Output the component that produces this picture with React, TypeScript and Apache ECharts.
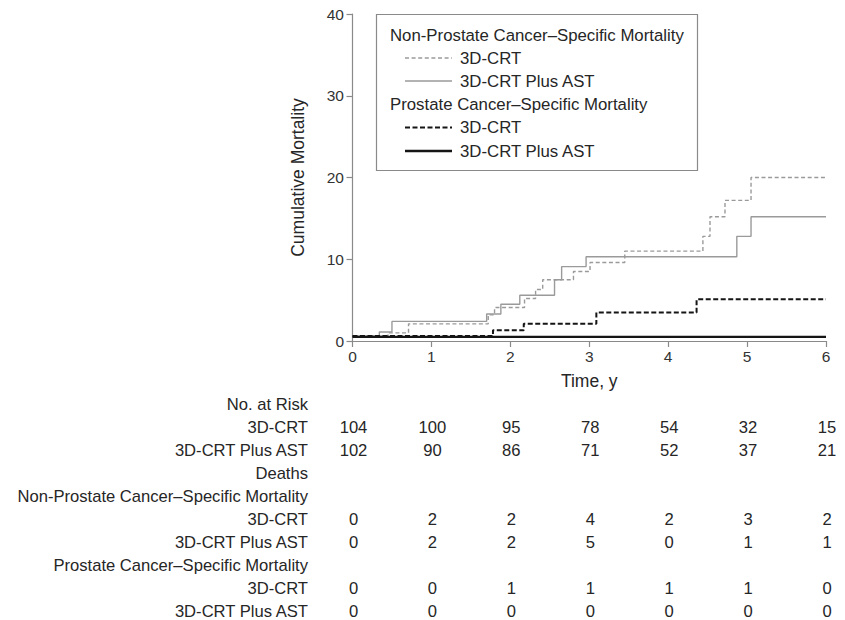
import React, { useEffect, useRef } from "react";
import * as echarts from "echarts";

// ---- Data ----
const timeTicks = [0, 1, 2, 3, 4, 5, 6];

// Non-prostate cancer-specific mortality
const npcsmCrtT = [0, 0.45, 0.71, 1.72, 1.8, 2.18, 2.32, 2.41, 2.8, 3.01, 3.45, 4.44, 4.53, 4.72, 5.05, 6];
const npcsmCrtV = [0.6, 1.0, 2.1, 3.2, 4.1, 5.2, 6.3, 7.5, 8.5, 9.6, 11.0, 12.8, 15.2, 17.2, 20.0, 20.0];
const npcsmAstT = [0, 0.34, 0.5, 1.7, 1.88, 2.12, 2.56, 2.65, 2.96, 4.87, 5.05, 6];
const npcsmAstV = [0.6, 1.1, 2.4, 3.3, 4.5, 5.6, 7.5, 9.1, 10.3, 12.8, 15.2, 15.2];

// Prostate cancer-specific mortality
const pcsmCrtT = [0, 1.78, 2.17, 3.09, 4.36, 6];
const pcsmCrtV = [0.6, 1.3, 2.1, 3.5, 5.1, 5.1];
const pcsmAstT = [0, 6];
const pcsmAstV = [0.5, 0.5];

// Table
const riskCrt = [104, 100, 95, 78, 54, 32, 15];
const riskAst = [102, 90, 86, 71, 52, 37, 21];
const deathNpcsmCrt = [0, 2, 2, 4, 2, 3, 2];
const deathNpcsmAst = [0, 2, 2, 5, 0, 1, 1];
const deathPcsmCrt = [0, 0, 1, 1, 1, 1, 0];
const deathPcsmAst = [0, 0, 0, 0, 0, 0, 0];

const tableRows: { label: string; values: number[] | null }[] = [
  { label: "No. at Risk", values: null },
  { label: "3D-CRT", values: riskCrt },
  { label: "3D-CRT Plus AST", values: riskAst },
  { label: "Deaths", values: null },
  { label: "Non-Prostate Cancer\u2013Specific Mortality", values: null },
  { label: "3D-CRT", values: deathNpcsmCrt },
  { label: "3D-CRT Plus AST", values: deathNpcsmAst },
  { label: "Prostate Cancer\u2013Specific Mortality", values: null },
  { label: "3D-CRT", values: deathPcsmCrt },
  { label: "3D-CRT Plus AST", values: deathPcsmAst },
];

const FONT = "'Liberation Sans', Arial, Helvetica, sans-serif";
const GRAY = "#9a9a9a";
const BLACK = "#151515";
const TEXT = "#262626";

const zip = (t: number[], v: number[]) => t.map((x, i) => [x, v[i]]);

export default function App() {
  const ref = useRef<HTMLDivElement>(null);

  useEffect(() => {
    document.body.style.margin = "0";
    if (!ref.current) return;
    const chart = echarts.init(ref.current, undefined, { renderer: "svg" });

    const lineBase = {
      type: "line" as const,
      step: "end" as const,
      showSymbol: false,
      symbol: "none",
      silent: true,
    };

    chart.setOption({
      animation: false,
      grid: { left: 352.5, right: 19, top: 14, bottom: 279, containLabel: false },
      xAxis: {
        type: "value",
        min: 0,
        max: 6,
        interval: 1,
        name: "Time, y",
        nameLocation: "middle",
        nameGap: 31,
        nameTextStyle: { fontFamily: FONT, fontSize: 17.5, color: TEXT },
        axisLine: { show: true, lineStyle: { color: "#8a8a8a", width: 1.2 } },
        axisTick: { show: true, length: 6, lineStyle: { color: "#8a8a8a", width: 1.2 } },
        axisLabel: { fontFamily: FONT, fontSize: 15.5, color: "#333", margin: 7 },
        splitLine: { show: false },
      },
      yAxis: {
        type: "value",
        min: 0,
        max: 40,
        interval: 10,
        name: "Cumulative Mortality",
        nameLocation: "middle",
        nameGap: 46,
        nameTextStyle: { fontFamily: FONT, fontSize: 17.5, color: TEXT },
        axisLine: { show: true, lineStyle: { color: "#8a8a8a", width: 1.2 } },
        axisTick: { show: true, length: 6, lineStyle: { color: "#8a8a8a", width: 1.2 } },
        axisLabel: { fontFamily: FONT, fontSize: 15.5, color: "#333", margin: 8.5 },
        splitLine: { show: false },
      },
      series: [
        {
          ...lineBase,
          name: "NPCSM 3D-CRT",
          data: zip(npcsmCrtT, npcsmCrtV),
          lineStyle: { color: GRAY, width: 1.4, type: [4, 2.6] },
        },
        {
          ...lineBase,
          name: "NPCSM 3D-CRT Plus AST",
          data: zip(npcsmAstT, npcsmAstV),
          lineStyle: { color: GRAY, width: 1.4, type: "solid" },
        },
        {
          ...lineBase,
          name: "PCSM 3D-CRT",
          data: zip(pcsmCrtT, pcsmCrtV),
          lineStyle: { color: BLACK, width: 2, type: [5, 2.5] },
        },
        {
          ...lineBase,
          name: "PCSM 3D-CRT Plus AST",
          data: zip(pcsmAstT, pcsmAstV),
          lineStyle: { color: BLACK, width: 2.4, type: "solid" },
        },
      ],
    });

    // Legend (drawn as graphics)
    const legend: any[] = [
      {
        type: "rect",
        shape: { x: 376.5, y: 14.5, width: 321, height: 156 },
        style: { fill: "#fff", stroke: "#8a8a8a", lineWidth: 1.2 },
        z: 10,
      },
    ];
    const legendItems: { text: string; y: number; header?: boolean; color?: string; dash?: number[] | null; width?: number }[] = [
      { text: "Non-Prostate Cancer\u2013Specific Mortality", y: 35, header: true },
      { text: "3D-CRT", y: 58, color: GRAY, dash: [4, 2.6], width: 1.4 },
      { text: "3D-CRT Plus AST", y: 81, color: GRAY, dash: null, width: 1.4 },
      { text: "Prostate Cancer\u2013Specific Mortality", y: 104, header: true },
      { text: "3D-CRT", y: 127.5, color: BLACK, dash: [5, 2.5], width: 2 },
      { text: "3D-CRT Plus AST", y: 151, color: BLACK, dash: null, width: 2.4 },
    ];
    legendItems.forEach((it) => {
      if (it.header) {
        legend.push({
          type: "text",
          x: 390,
          y: it.y,
          z: 11,
          style: { text: it.text, fill: TEXT, font: `16.8px ${FONT}`, align: "left", verticalAlign: "middle" },
        });
      } else {
        legend.push({
          type: "line",
          z: 11,
          shape: { x1: 405, y1: it.y, x2: 452, y2: it.y },
          style: { stroke: it.color, lineWidth: it.width, lineDash: it.dash || undefined },
        });
        legend.push({
          type: "text",
          x: 460,
          y: it.y,
          z: 11,
          style: { text: it.text, fill: TEXT, font: `16.8px ${FONT}`, align: "left", verticalAlign: "middle" },
        });
      }
    });

    // Risk table below the chart, aligned to the x axis ticks
    const table: any[] = [];
    const rowY0 = 404;
    const rowStep = 23;
    tableRows.forEach((row, r) => {
      const y = rowY0 + r * rowStep;
      table.push({
        type: "text",
        x: 308,
        y,
        style: { text: row.label, fill: TEXT, font: `16.6px ${FONT}`, align: "right", verticalAlign: "middle" },
      });
      if (row.values) {
        row.values.forEach((v, i) => {
          const px = chart.convertToPixel({ xAxisIndex: 0 }, timeTicks[i]) as number;
          table.push({
            type: "text",
            x: px + 1,
            y,
            style: { text: String(v), fill: TEXT, font: `16.6px ${FONT}`, align: "center", verticalAlign: "middle" },
          });
        });
      }
    });

    chart.setOption({ graphic: [...legend, ...table] });

    return () => chart.dispose();
  }, []);

  return <div ref={ref} style={{ width: 845, height: 620 }} />;
}
